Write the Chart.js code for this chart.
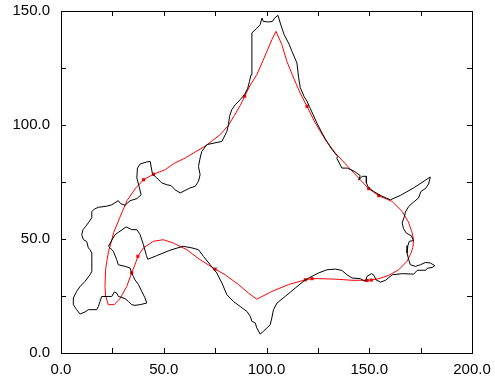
<!DOCTYPE html>
<html>
<head>
<meta charset="utf-8">
<script src="https://cdn.jsdelivr.net/npm/chart.js@4/dist/chart.umd.min.js"></script>
<style>
    body { margin: 0; background: #fff; }
</style>
</head>
<body>
<canvas id="myChart" width="495" height="383"></canvas>
<script>
//Contour noir (côte)
const coteX = [15.0, 14.1, 13.3, 12.5, 10.9, 10.1, 10.7, 11.9, 13.3, 15.0, 15.0, 16.2, 18.2, 22.3, 24.7, 27.9, 29.0, 31.2, 33.6, 36.9,
    39.0, 38.0, 36.9, 37.2, 38.5, 41.7, 43.4, 44.5, 46.6, 49.0, 51.5, 53.6, 55.5, 58.0, 62.8, 65.3, 66.9, 67.7, 66.9, 67.7,
    68.5, 71.0, 78.3, 80.7, 81.5, 82.0, 83.1, 84.8, 87.2, 89.3, 90.9, 91.7, 92.5, 92.9, 92.9, 95.3, 96.9, 97.8, 98.5, 101.0,
    102.9, 103.9, 105.6, 106.7, 107.5, 108.6, 110.7, 112.4, 114.8, 115.6, 116.4, 118.3, 119.7, 120.8, 122.7, 124.5, 127.0, 129.4, 131.9, 134.6,
    134.2, 136.7, 139.3, 142.7, 145.6, 144.9, 146.5, 148.6, 148.6, 149.7, 152.1, 155.4, 160.3, 165.1, 171.6, 179.7, 178.9, 177.3, 175.2, 174.0,
    171.6, 169.2, 167.6, 167.1, 166.0, 166.7, 168.0, 170.5, 171.5, 169.5, 168.8, 168.4, 169.2, 170.0, 172.4, 174.9, 177.3, 179.7, 181.9, 180.6,
    178.3, 177.5, 173.4, 171.6, 166.1, 161.2, 157.8, 155.4, 153.3, 152.1, 151.0, 148.9, 148.1, 145.6, 141.6, 139.2, 136.7, 133.5, 129.4, 125.3,
    122.1, 118.9, 114.0, 109.1, 105.1, 103.4, 102.6, 101.8, 100.2, 98.5, 96.9, 95.3, 94.5, 92.9, 92.1, 90.5, 87.2, 83.9, 80.7, 78.3,
    75.8, 72.6, 69.3, 66.9, 63.7, 59.4, 53.1, 46.6, 42.2, 41.6, 40.1, 38.5, 36.9, 34.4, 31.7, 26.3, 23.9, 23.1, 23.9, 25.5,
    27.1, 27.9, 31.2, 33.6, 34.4, 35.2, 36.0, 37.7, 39.3, 40.9, 41.7, 38.5, 36.0, 34.4, 32.8, 31.2, 29.6, 27.9, 27.1, 26.0,
    24.7, 19.8, 19.0, 18.2, 17.4, 13.3, 11.7, 9.3, 7.6, 6.0, 6.0, 7.6, 9.3, 11.7, 14.1, 15.0];
const coteY = [43.9, 45.3, 46.1, 48.9, 49.7, 51.9, 54.1, 55.4, 57.1, 59.3, 62.0, 63.1, 63.9, 64.4, 65.0, 66.8, 65.5, 64.8, 66.8, 67.7,
    69.4, 73.1, 76.8, 81.1, 82.9, 83.8, 84.0, 78.5, 76.8, 74.6, 73.8, 73.4, 71.6, 70.2, 72.4, 73.1, 75.3, 78.2, 81.8, 85.5,
    88.4, 91.4, 92.8, 97.2, 100.1, 103.8, 106.7, 108.9, 111.1, 113.3, 116.2, 119.1, 122.1, 130.1, 140.4, 142.5, 144.0, 146.9, 145.4, 145.2,
    145.4, 146.9, 148.1, 144.7, 142.5, 139.6, 136.0, 132.3, 127.2, 121.0, 116.5, 112.5, 110.5, 108.2, 104.5, 100.9, 96.5, 92.7, 89.2, 86.2,
    85.4, 81.1, 81.1, 79.7, 77.8, 75.8, 77.5, 77.5, 74.6, 72.4, 70.9, 69.1, 67.2, 69.1, 72.4, 77.2, 74.1, 72.1, 70.9, 68.0,
    66.2, 64.3, 61.8, 59.9, 57.0, 54.5, 52.6, 51.4, 49.3, 49.0, 47.1, 43.9, 40.9, 38.7, 38.0, 38.7, 39.7, 39.5, 38.3, 37.5,
    37.2, 36.3, 36.3, 34.6, 34.8, 34.3, 31.8, 31.1, 32.1, 34.3, 34.8, 33.6, 31.4, 32.6, 32.9, 34.3, 36.2, 36.8, 36.5, 35.1,
    33.6, 32.1, 28.5, 24.8, 21.9, 19.0, 15.4, 12.4, 11.0, 9.5, 8.3, 11.0, 13.2, 13.9, 16.1, 18.2, 20.4, 22.6, 25.6, 30.7,
    35.1, 38.7, 42.4, 45.3, 46.1, 46.8, 45.1, 42.7, 41.1, 42.7, 47.5, 51.9, 54.1, 54.1, 55.3, 51.9, 48.2, 46.8, 46.1, 44.6,
    40.9, 38.7, 38.0, 37.3, 35.1, 33.6, 32.1, 30.0, 27.0, 24.1, 21.9, 21.2, 20.9, 21.2, 22.6, 23.8, 24.4, 24.8, 26.3, 26.8,
    24.8, 24.8, 22.6, 20.4, 19.0, 19.0, 18.0, 17.1, 19.0, 21.2, 24.1, 27.0, 29.2, 31.4, 34.3, 35.8];

//Courbe rouge (lissage)
const courbeX = [104.6, 107.5, 109.9, 113.2, 116.4, 119.7, 123.7, 128.6, 133.5, 139.9, 145.6, 149.7, 154.6, 161.1, 166.0, 169.0, 170.7, 171.6, 171.2, 170.2,
    168.4, 164.3, 159.4, 154.6, 149.7, 141.6, 133.5, 125.3, 122.1, 118.9, 110.7, 102.6, 95.3, 91.2, 86.4, 79.9, 75.0, 67.7, 61.2, 54.7,
    49.8, 45.0, 40.1, 37.4, 36.0, 34.4, 32.0, 28.7, 25.8, 23.0, 21.7, 21.4, 21.7, 22.3, 23.1, 24.4, 25.6, 28.7, 32.1, 36.3,
    40.2, 45.0, 50.7, 54.7, 60.4, 64.4, 70.1, 73.6, 77.4, 81.5, 84.3, 87.2, 89.4, 92.1, 95.3, 97.8, 100.2, 102.6, 104.6];
const courbeY = [141.1, 135.2, 127.9, 120.6, 114.0, 108.2, 100.9, 93.6, 87.7, 81.5, 76.0, 72.1, 69.0, 66.5, 62.1, 57.6, 53.2, 49.7, 46.2, 43.6,
    40.2, 36.5, 34.0, 32.6, 31.9, 31.9, 32.4, 32.6, 32.6, 32.1, 30.0, 27.0, 23.6, 26.3, 30.0, 34.3, 36.8, 40.9, 45.3, 48.2,
    49.7, 49.0, 46.1, 42.4, 38.7, 35.1, 29.2, 23.8, 21.2, 21.2, 25.1, 29.2, 36.5, 40.2, 44.4, 48.4, 52.8, 59.6, 66.8, 72.3,
    76.0, 78.4, 80.4, 83.0, 85.5, 87.7, 90.7, 93.1, 95.7, 99.9, 104.1, 108.5, 112.6, 117.5, 122.1, 127.2, 132.3, 137.4, 141.1];

//Points de contrôle marqués sur la courbe
const noeudsX = [40.2, 45.0, 89.4, 119.7, 149.7, 154.6, 151.0, 149.0, 122.1, 118.9, 75.0, 37.4, 34.4];
const noeudsY = [76.0, 78.4, 112.6, 108.2, 72.1, 69.0, 32.0, 31.8, 32.6, 32.1, 36.8, 42.4, 35.1];

//Axes
const axeX = [0, 200];
const axeY = [0, 150];
const pasTicks = 25;
const pasEtiquettes = 50;

//Transformer les tableaux en points {x, y}
function points(xs, ys) {
    let res = [];
    for (let i = 0; i < xs.length; i++) {
        res.push({x: xs[i], y: ys[i]});
    }
    return res;
}

let cote = points(coteX, coteY);
cote.push(cote[0]);

//Petits traits des graduations vers l'intérieur + cadre
const cadre = {
    id: 'cadre',
    afterDraw(chart) {
        const ctx = chart.ctx;
        const a = chart.chartArea;
        const sx = chart.scales.x;
        const sy = chart.scales.y;
        const l = 5;
        ctx.save();
        ctx.strokeStyle = '#000';
        ctx.lineWidth = 1;
        ctx.beginPath();
        sx.ticks.forEach(function (t) {
            const px = Math.round(sx.getPixelForValue(t.value)) + 0.5;
            ctx.moveTo(px, a.bottom);
            ctx.lineTo(px, a.bottom - l);
            ctx.moveTo(px, a.top);
            ctx.lineTo(px, a.top + l);
        });
        sy.ticks.forEach(function (t) {
            const py = Math.round(sy.getPixelForValue(t.value)) + 0.5;
            ctx.moveTo(a.left, py);
            ctx.lineTo(a.left + l, py);
            ctx.moveTo(a.right, py);
            ctx.lineTo(a.right - l, py);
        });
        ctx.stroke();
        ctx.strokeRect(Math.round(a.left) + 0.5, Math.round(a.top) + 0.5, Math.round(a.right - a.left), Math.round(a.bottom - a.top));
        ctx.restore();
    }
};

function etiquette(value) {
    if (value % pasEtiquettes === 0) {
        return value.toFixed(1);
    }
    return '';
}

new Chart(document.getElementById('myChart').getContext('2d'), {
    type: 'scatter',
    data: {
        datasets: [{
            label: 'cote',
            data: cote,
            showLine: true,
            borderColor: '#000000',
            borderWidth: 1,
            pointRadius: 0,
            tension: 0
        }, {
            label: 'courbe',
            data: points(courbeX, courbeY),
            showLine: true,
            borderColor: '#ff0000',
            borderWidth: 1,
            pointRadius: 0,
            tension: 0
        }, {
            label: 'noeuds',
            data: points(noeudsX, noeudsY),
            showLine: false,
            backgroundColor: '#ff0000',
            borderColor: '#ff0000',
            pointStyle: 'rect',
            pointRadius: 2.2,
            borderWidth: 0
        }]
    },
    options: {
        responsive: false,
        animation: false,
        events: [],
        layout: {
            padding: {left: 0, right: 23, top: 11, bottom: 0}
        },
        plugins: {
            legend: {display: false},
            tooltip: {enabled: false}
        },
        scales: {
            x: {
                type: 'linear',
                min: axeX[0],
                max: axeX[1],
                grid: {display: false, drawTicks: false},
                border: {display: false},
                afterFit: function (scale) {
                    scale.height = 30;
                    scale.paddingLeft = 0;
                    scale.paddingRight = 0;
                },
                ticks: {
                    stepSize: pasTicks,
                    autoSkip: false,
                    maxRotation: 0,
                    padding: 8,
                    color: '#000',
                    font: {family: 'Liberation Sans', size: 15},
                    callback: etiquette
                }
            },
            y: {
                type: 'linear',
                min: axeY[0],
                max: axeY[1],
                grid: {display: false, drawTicks: false},
                border: {display: false},
                afterFit: function (scale) {
                    scale.width = 61;
                    scale.paddingTop = 0;
                    scale.paddingBottom = 0;
                },
                ticks: {
                    stepSize: pasTicks,
                    autoSkip: false,
                    padding: 11,
                    color: '#000',
                    font: {family: 'Liberation Sans', size: 15},
                    callback: etiquette
                }
            }
        }
    },
    plugins: [cadre]
});
</script>
</body>
</html>
